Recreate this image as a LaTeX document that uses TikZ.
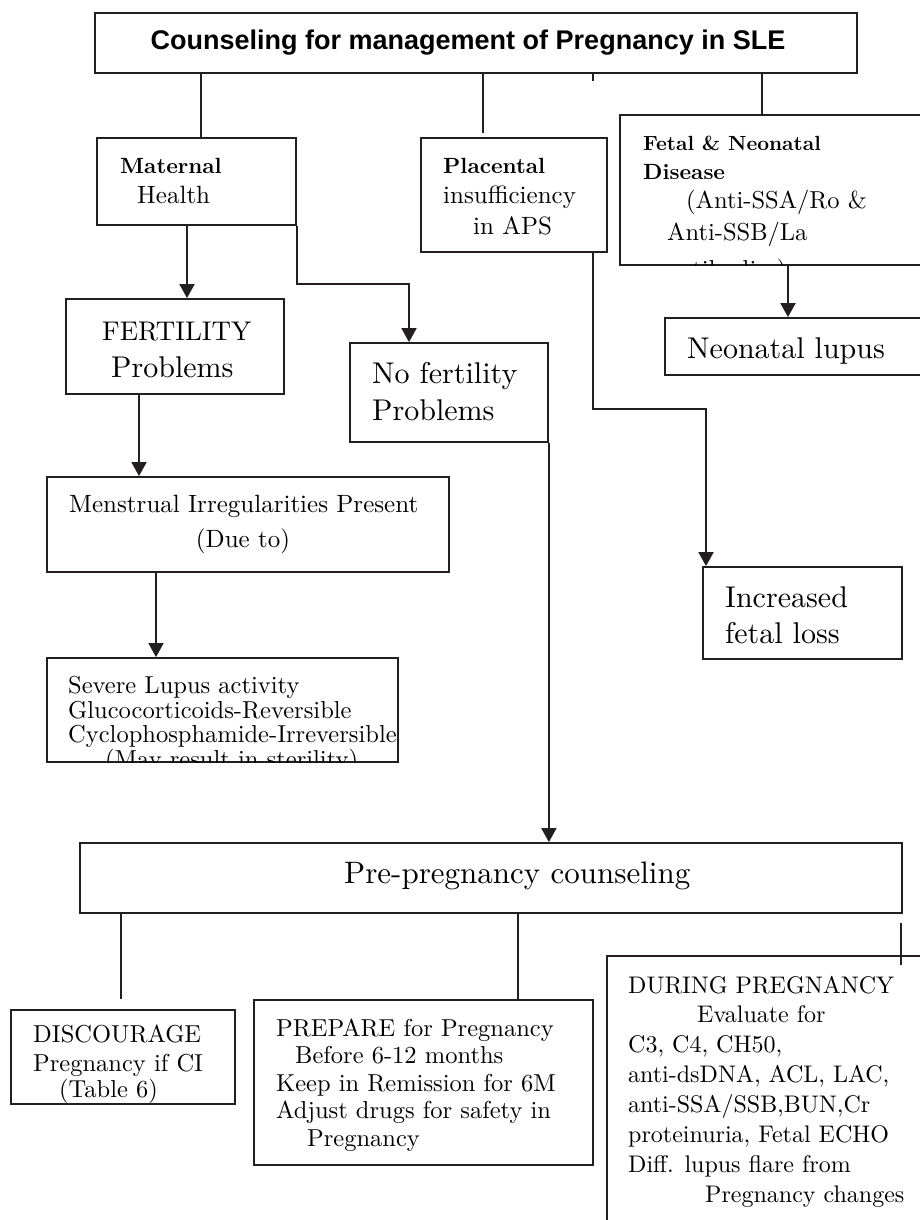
\documentclass[tikz,border=0pt]{standalone}
\usepackage{fontspec}
\setmainfont{lmroman10}[Extension=.otf, UprightFont=*-regular, BoldFont=*-bold, ItalicFont=*-italic, BoldItalicFont=*-bolditalic]
\newfontfamily\titlefont{Liberation Sans}
\usetikzlibrary{arrows.meta}
\definecolor{ink}{HTML}{231F20}
\tikzset{
  box/.style={draw=ink, line width=1.8pt, inner sep=0pt, rectangle},
  ln/.style={draw=ink, line width=1.8pt},
  arr/.style={ln, -{Triangle[length=14pt,width=15pt]}},
  txt/.style={anchor=base west, inner sep=0pt, text=black},
  ctxt/.style={anchor=base, inner sep=0pt, text=black},
  fS/.style={font=\fontsize{24.5}{28}\selectfont},
  fD/.style={font=\fontsize{24}{28}\selectfont},
  fM/.style={font=\fontsize{25}{30}\selectfont},
  fB/.style={font=\fontsize{22}{26}\selectfont\bfseries},
  fBs/.style={font=\fontsize{20.5}{25}\selectfont\bfseries},
  fL/.style={font=\fontsize{30}{36}\selectfont},
}
\begin{document}
\begin{tikzpicture}[x=1pt,y=-1pt]
\useasboundingbox (0,0) rectangle (920,1220);
\fill[white] (0,0) rectangle (920,1220);
\clip (0,0) rectangle (920,1220);

% ---------- boxes ----------
\node[box, minimum width=762pt, minimum height=60pt] (title) at (476,43) {};
\node[box, minimum width=199pt, minimum height=87pt] (maternal) at (196.5,181.5) {};
\node[box, minimum width=186pt, minimum height=114pt] (placental) at (514,195) {};
\node[box, minimum width=320pt, minimum height=150pt] (fetal) at (780,190) {};
\node[box, minimum width=275pt, minimum height=57pt] (neonatal) at (802.5,346.5) {};
\node[box, minimum width=218pt, minimum height=95pt] (fertility) at (175,346.5) {};
\node[box, minimum width=198pt, minimum height=99pt] (nofert) at (449,392.5) {};
\node[box, minimum width=402pt, minimum height=95pt] (menstrual) at (248,524.5) {};
\node[box, minimum width=199pt, minimum height=92pt] (increased) at (802.5,613) {};
\node[box, minimum width=351pt, minimum height=104pt] (severe) at (222.5,710) {};
\node[box, minimum width=822pt, minimum height=70pt] (prepreg) at (491,878) {};
\node[box, minimum width=224pt, minimum height=94pt] (discourage) at (123,1057) {};
\node[box, minimum width=339pt, minimum height=165pt] (prepare) at (423.5,1082.5) {};
\node[box, minimum width=333pt, minimum height=284pt] (during) at (773.5,1098) {};

% ---------- texts ----------
\node[ctxt] (tTitle) at (468,50) {\titlefont\bfseries\fontsize{27}{32}\selectfont Counseling for management of Pregnancy in SLE};

\node[txt, fB] (tMat1) at (120,173) {Maternal};
\node[txt, fM] (tMat2) at (137,203) {Health};

\node[txt, fB] (tPl1) at (443,173) {Placental};
\node[txt, fM] (tPl2) at (443,203) {insufficiency};
\node[txt, fM] (tPl3) at (473,234) {in APS};

\node[txt, fBs] (tFe1) at (643,150) {Fetal \& Neonatal};
\node[txt, fB] (tFe2) at (643,179) {Disease};
\node[txt, fS] (tFe3) at (686,208) {(Anti-SSA/Ro \&};
\node[txt, fS] (tFe4) at (667,240) {Anti-SSB/La};
\begin{scope}
  \clip (fetal.north west) rectangle (fetal.south east);
  \node[txt, fS] (tFe5) at (667,277) {antibodies)};
\end{scope}

\node[txt, fL] (tNeo) at (687,358) {Neonatal lupus};

\node[txt, font=\fontsize{27}{32}\selectfont] (tFer1) at (102,340) {FERTILITY};
\node[txt, fL] (tFer2) at (111,377) {Problems};

\node[txt, fL] (tNo1) at (372,383) {No fertility};
\node[txt, fL] (tNo2) at (372,420) {Problems};

\node[txt, fM] (tMen1) at (69,512) {Menstrual Irregularities Present};
\node[ctxt, fM] (tMen2) at (243,547) {(Due to)};

\node[txt, fL] (tInc1) at (725,607) {Increased};
\node[txt, fL] (tInc2) at (725,643) {fetal loss};

\node[txt, fS] (tSev1) at (68,693) {Severe Lupus activity};
\node[txt, fS] (tSev2) at (68,718) {Glucocorticoids-Reversible};
\node[txt, fS] (tSev3) at (68,742) {Cyclophosphamide-Irreversible};
\begin{scope}
  \clip (severe.north west) rectangle (severe.south east);
  \node[txt, fS] (tSev4) at (105,767) {(May result in sterility)};
\end{scope}

\node[txt, font=\fontsize{31}{36}\selectfont] (tPre) at (344,883) {Pre-pregnancy counseling};

\node[txt, fS] (tDis1) at (33,1042) {DISCOURAGE};
\node[txt, fS] (tDis2) at (33,1071) {Pregnancy if CI};
\node[txt, fS] (tDis3) at (59,1097) {(Table 6)};

\node[txt, fS] (tPrp1) at (276,1036) {PREPARE for Pregnancy};
\node[txt, fS] (tPrp2) at (295,1063) {Before 6-12 months};
\node[txt, fS] (tPrp3) at (276,1091) {Keep in Remission for 6M};
\node[txt, fS] (tPrp4) at (276,1118) {Adjust drugs for safety in};
\node[txt, fS] (tPrp5) at (307,1146) {Pregnancy};

\node[txt, fD] (tDu1) at (628,993) {DURING PREGNANCY};
\node[txt, fD] (tDu2) at (697,1022) {Evaluate for};
\node[txt, fD] (tDu3) at (628,1052) {C3, C4, CH50,};
\node[txt, fD] (tDu4) at (628,1082) {anti-dsDNA, ACL, LAC,};
\node[txt, fD] (tDu5) at (628,1112) {anti-SSA/SSB,BUN,Cr};
\node[txt, fD] (tDu6) at (628,1142) {proteinuria, Fetal ECHO};
\node[txt, fD] (tDu7) at (628,1172) {Diff. lupus flare from};
\node[txt, fD] (tDu8) at (705,1202) {Pregnancy changes};

% ---------- connectors ----------
\draw[ln] ([xshift=4.5pt]maternal.north |- title.south) -- ([xshift=4.5pt]maternal.north);
\draw[ln] ([xshift=-31pt]placental.north |- title.south) -- ([xshift=-31pt,yshift=4pt]placental.north);
\coordinate (tick1) at (593,81);
\draw[ln] (tick1 |- title.south) -- (tick1);
\draw[ln] ([xshift=-18pt]fetal.north |- title.south) -- ([xshift=-18pt]fetal.north);

\draw[arr] ([xshift=12pt]fertility.north |- maternal.south) -- ([xshift=12pt]fertility.north);
\draw[arr] (maternal.south east) -- ++(0,58) -| ([xshift=-40pt]nofert.north);
\draw[arr] ([xshift=-36pt]fertility.south) -- ([xshift=-36pt]fertility.south |- menstrual.north);
\draw[arr] ([xshift=-92pt]menstrual.south) -- ([xshift=-92pt]menstrual.south |- severe.north);
\draw[arr] (nofert.south east) -- (nofert.south east |- prepreg.north);
\draw[arr] ([xshift=79pt]placental.south) -- ++(0,156) -| ([xshift=-96.5pt]increased.north);
\draw[arr] ([xshift=-14.5pt]neonatal.north |- fetal.south) -- ([xshift=-14.5pt]neonatal.north);

\draw[ln] ([xshift=-2pt]discourage.north |- prepreg.south) -- ([xshift=-2pt,yshift=10pt]discourage.north);
\draw[ln] ([xshift=94.5pt]prepare.north |- prepreg.south) -- ([xshift=94.5pt]prepare.north);
\coordinate (tick2) at (901,923);
\draw[ln] (tick2) -- ([yshift=-10pt]tick2 |- during.north);
\end{tikzpicture}
\end{document}
